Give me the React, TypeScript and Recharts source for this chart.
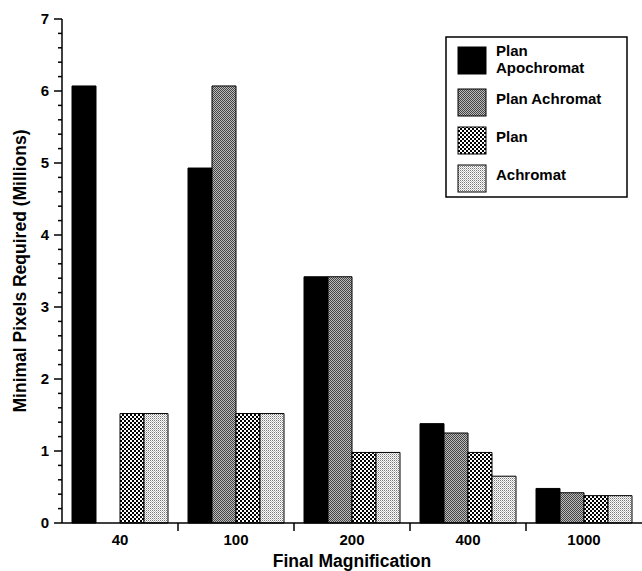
import React from 'react';
import { BarChart, Bar, XAxis, YAxis } from 'recharts';

const magnifications = ['40', '100', '200', '400', '1000'];
const planApochromat = [6.07, 4.93, 3.42, 1.38, 0.48];
const planAchromat = [0, 6.07, 3.42, 1.25, 0.42];
const plan = [1.52, 1.52, 0.98, 0.98, 0.38];
const achromat = [1.52, 1.52, 0.98, 0.65, 0.38];
const yTicks = Array.from({ length: 36 }, (_, i) => Math.round(i * 2) / 10);

const data = magnifications.map((m, i) => ({
  name: m,
  apo: planApochromat[i],
  planAchro: planAchromat[i] || null,
  plan: plan[i],
  achro: achromat[i],
}));

const W = 642;
const H = 571;
const LEFT = 62;
const BAND = (W - LEFT) / magnifications.length;
const FONT = 'Liberation Sans, Arial, sans-serif';

const YTick = (props: any) => {
  const { x, y, payload } = props;
  const v = payload.value;
  const major = Math.abs(v - Math.round(v)) < 1e-6;
  const ax = x + 8;
  return (
    <g>
      <line x1={ax - (major ? 8 : 4)} x2={ax} y1={y} y2={y} stroke="#000" strokeWidth={1.5} />
      {major && (
        <text x={ax - 13} y={y + 5} textAnchor="end" fontSize={15} fontWeight="bold" fontFamily={FONT} fill="#000">
          {Math.round(v)}
        </text>
      )}
    </g>
  );
};

const XTick = (props: any) => {
  const { x, y, payload, index } = props;
  return (
    <g>
      {index < magnifications.length - 1 && (
        <line x1={x + BAND / 2} x2={x + BAND / 2} y1={y - 8} y2={y} stroke="#000" strokeWidth={1.5} />
      )}
      <text x={x} y={y + 14} textAnchor="middle" fontSize={15} fontWeight="bold" fontFamily={FONT} fill="#000">
        {payload.value}
      </text>
    </g>
  );
};

const legendItems = [
  { fill: '#000', lines: ['Plan', 'Apochromat'] },
  { fill: 'url(#pPlanAchro)', lines: ['Plan Achromat'] },
  { fill: 'url(#pPlan)', lines: ['Plan'] },
  { fill: 'url(#pAchro)', lines: ['Achromat'] },
];

const Legend = () => {
  const rows = [51, 99, 137, 175];
  return (
    <g>
      <rect x={446} y={37} width={181} height={160} fill="#fff" stroke="#000" strokeWidth={1.5} />
      {legendItems.map((it, i) => (
        <g key={i}>
          <rect x={458} y={i === 0 ? 47 : rows[i] - 10} width={28} height={27} fill={it.fill} stroke="#000" strokeWidth={1} />
          {it.lines.map((l, j) => (
            <text key={j} x={496} y={rows[i] + 5 + j * 17} fontSize={15} fontWeight="bold" fontFamily={FONT} fill="#000">
              {l}
            </text>
          ))}
        </g>
      ))}
    </g>
  );
};

export default function App() {
  return (
    <div style={{ position: 'absolute', left: 0, top: 0, background: '#fff' }}>
      <BarChart
        width={W}
        height={H}
        data={data}
        margin={{ top: 19, right: 0, left: 0, bottom: 0 }}
        barGap={0}
        barCategoryGap={10}
      >
        <defs>
          <pattern id="pPlanAchro" width="2" height="2" patternUnits="userSpaceOnUse">
            <rect width="2" height="2" fill="#bbb" />
            <rect width="1" height="1" fill="#444" />
            <rect x="1" y="1" width="1" height="1" fill="#444" />
          </pattern>
          <pattern id="pPlan" width="4" height="4" patternUnits="userSpaceOnUse">
            <rect width="4" height="4" fill="#fff" />
            <rect width="2" height="2" fill="#000" />
            <rect x="2" y="2" width="2" height="2" fill="#000" />
          </pattern>
          <pattern id="pAchro" width="2" height="2" patternUnits="userSpaceOnUse">
            <rect width="2" height="2" fill="#fff" />
            <rect width="1" height="1" fill="#777" />
            <rect x="1" y="1" width="1" height="1" fill="#bbb" />
          </pattern>
        </defs>
        <XAxis
          dataKey="name"
          height={48}
          tickLine={false}
          axisLine={{ stroke: '#000', strokeWidth: 1.5 }}
          tick={<XTick />}
          interval={0}
          label={{ value: 'Final Magnification', position: 'insideBottom', offset: 4, fontSize: 17.5, fontWeight: 'bold', fontFamily: FONT, fill: '#000' }}
        />
        <XAxis xAxisId="top" orientation="top" dataKey="name" height={0} tick={false} tickLine={false} axisLine={{ stroke: '#000', strokeWidth: 1.5 }} />
        <YAxis
          width={LEFT}
          domain={[0, 7]}
          ticks={yTicks}
          interval={0}
          tickLine={false}
          axisLine={{ stroke: '#000', strokeWidth: 1.5 }}
          tick={<YTick />}
          label={{ value: 'Minimal Pixels Required (Millions)', angle: -90, position: 'insideLeft', offset: 20, style: { textAnchor: 'middle' }, fontSize: 17.5, fontWeight: 'bold', fontFamily: FONT, fill: '#000' }}
        />
        <Bar dataKey="apo" fill="#000" stroke="#000" strokeWidth={1} isAnimationActive={false} />
        <Bar dataKey="planAchro" fill="url(#pPlanAchro)" stroke="#000" strokeWidth={1} isAnimationActive={false} />
        <Bar dataKey="plan" fill="url(#pPlan)" stroke="#000" strokeWidth={1} isAnimationActive={false} />
        <Bar dataKey="achro" fill="url(#pAchro)" stroke="#000" strokeWidth={1} isAnimationActive={false} />
        <Legend />
      </BarChart>
    </div>
  );
}
